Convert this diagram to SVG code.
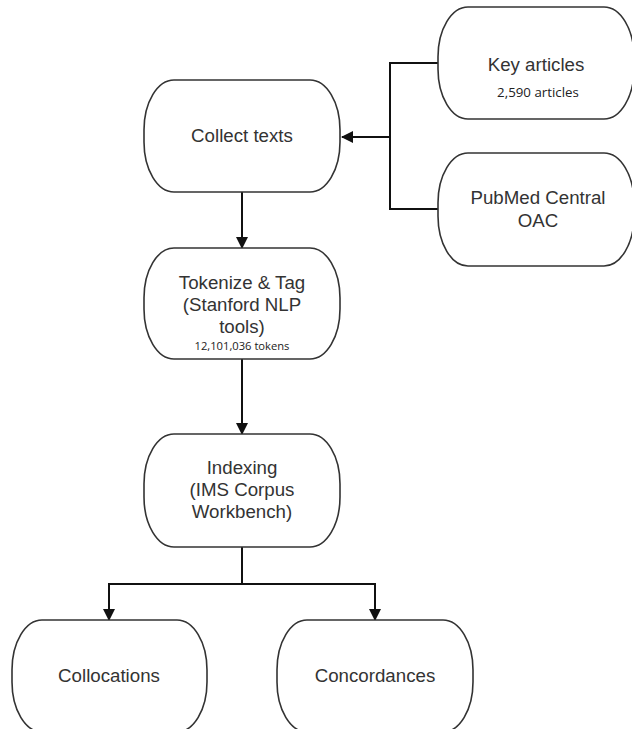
<svg xmlns="http://www.w3.org/2000/svg" width="632" height="729" viewBox="0 0 632 729">
<defs>
<marker id="ah" markerWidth="12" markerHeight="12" refX="11" refY="6" orient="auto" markerUnits="userSpaceOnUse">
<path d="M0,0 L12,6 L0,12 Z" fill="#111"/>
</marker>
<style>
.n{fill:#fff;stroke:#333;stroke-width:1.6}
.t{font-family:"Liberation Sans",Arial,sans-serif;font-size:18.7px;fill:#333;text-anchor:middle}
.s{font-family:"Open Sans","Liberation Sans",sans-serif;fill:#222;text-anchor:middle}
.c{fill:none;stroke:#111;stroke-width:2}
</style>
</defs>
<rect width="632" height="729" fill="#fff"/>
<g id="connectors">
<path class="c" d="M438,63 H390 V209 H438"/>
<path class="c" d="M390,137 H342" marker-end="url(#ah)"/>
<path class="c" d="M242,192 V248" marker-end="url(#ah)"/>
<path class="c" d="M242,359 V434" marker-end="url(#ah)"/>
<path class="c" d="M242,547 V584 H109 V620" marker-end="url(#ah)"/>
<path class="c" d="M242,584 H375 V620" marker-end="url(#ah)"/>
</g>
<g id="key-articles">
<rect class="n" x="438" y="7" width="196" height="112" rx="30" ry="50"/>
<text class="t" x="536" y="71">Key articles</text>
<text class="s" x="538" y="97" font-size="13.3">2,590 articles</text>
</g>
<g id="pubmed">
<rect class="n" x="438" y="153" width="196" height="113" rx="30" ry="50"/>
<text class="t" x="538" y="204">PubMed Central</text>
<text class="t" x="538" y="227">OAC</text>
</g>
<g id="collect-texts">
<rect class="n" x="144" y="80" width="196" height="112" rx="30" ry="50"/>
<text class="t" x="242" y="142">Collect texts</text>
</g>
<g id="tokenize">
<rect class="n" x="144" y="248" width="196" height="111" rx="30" ry="50"/>
<text class="t" x="242" y="289">Tokenize &amp; Tag</text>
<text class="t" x="242" y="311">(Stanford NLP</text>
<text class="t" x="242" y="333">tools)</text>
<text class="s" x="242" y="350" font-size="11.2">12,101,036 tokens</text>
</g>
<g id="indexing">
<rect class="n" x="144" y="434" width="196" height="113" rx="30" ry="50"/>
<text class="t" x="242" y="474">Indexing</text>
<text class="t" x="242" y="496">(IMS Corpus</text>
<text class="t" x="242" y="518">Workbench)</text>
</g>
<g id="collocations">
<rect class="n" x="12" y="620" width="195" height="112" rx="30" ry="50"/>
<text class="t" x="109" y="682">Collocations</text>
</g>
<g id="concordances">
<rect class="n" x="277" y="620" width="196" height="112" rx="30" ry="50"/>
<text class="t" x="375" y="682">Concordances</text>
</g>
</svg>
